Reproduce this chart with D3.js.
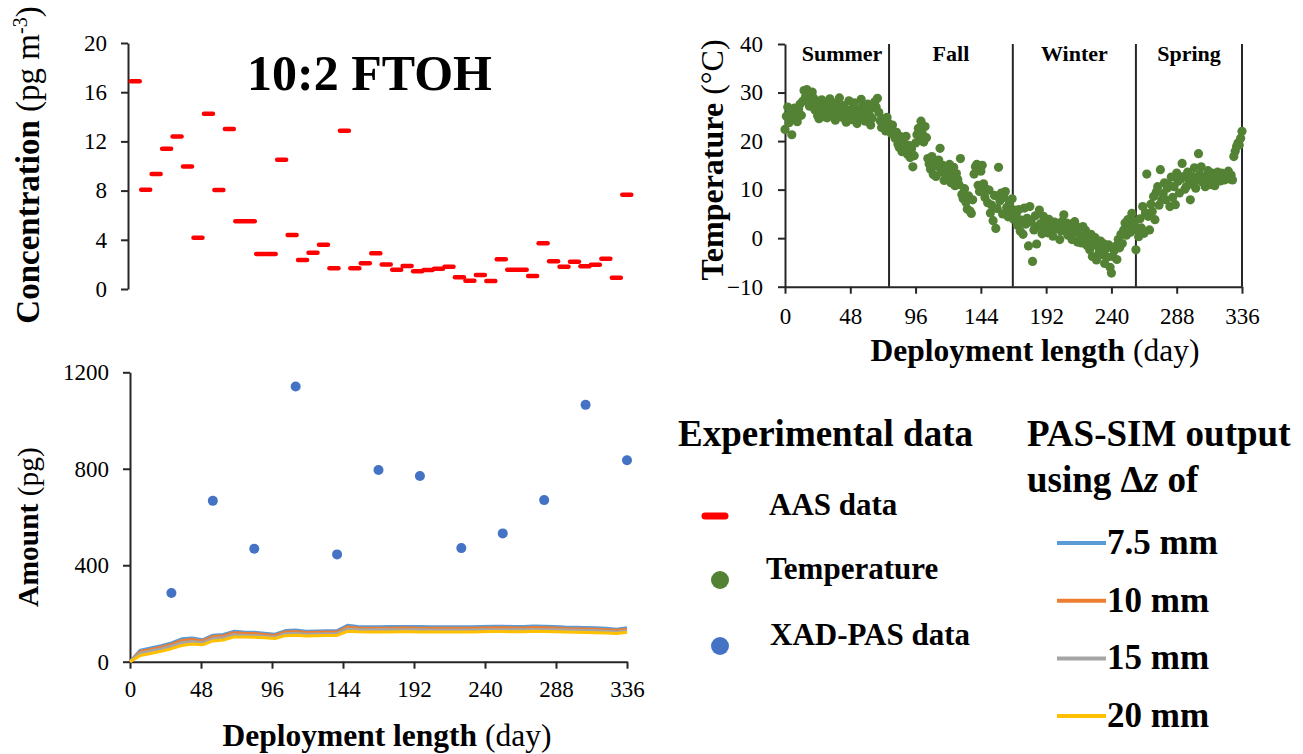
<!DOCTYPE html>
<html>
<head>
<meta charset="utf-8">
<script src="https://cdn.jsdelivr.net/npm/d3@7"></script>
<style>
  body { margin: 0; background: #fff; }
  svg { display: block; font-family: "Liberation Serif", "Times New Roman", serif; }
</style>
</head>
<body>
<svg id="chart" width="1303" height="754"></svg>
<script>
// AAS air concentrations (pg m-3), one weekly sample each
const aasConc = [16.9, 8.07, 9.35, 11.4, 12.4, 9.95, 4.17, 14.25, 8.05, 13.0, 5.5, 5.5,
  2.85, 2.85, 10.5, 4.4, 2.35, 2.95, 3.6, 1.68, 12.87, 1.68, 2.1, 2.9,
  2.0, 1.57, 1.87, 1.44, 1.54, 1.65, 1.81, 0.95, 0.68, 1.14, 0.65, 2.41,
  1.57, 1.57, 1.06, 3.71, 2.25, 1.81, 2.22, 1.84, 1.98, 2.46, 0.92, 7.67];

// XAD-PAS measured amounts (pg)
const xadDays = [28, 56, 84, 112, 140, 168, 196, 224, 252, 280, 308, 336];
const xadAmount = [285, 667, 468, 1141, 445, 795, 770, 471, 532, 670, 1065, 835];

// PAS-SIM output (pg), weekly
const simDays = [0, 7, 14, 21, 28, 35, 42, 49, 56, 63, 70, 77, 84, 91, 98, 105, 112, 119, 126, 133,
  140, 147, 154, 161, 168, 175, 182, 189, 196, 203, 210, 217, 224, 231, 238, 245, 252, 259, 266,
  273, 280, 287, 294, 301, 308, 315, 322, 329, 336];
const sim75 = [0, 48, 57, 66, 78, 95, 98, 91, 110, 113, 126, 123, 122, 118, 114, 129, 131, 126, 127, 128,
  129, 151, 146, 145, 145, 146, 146, 146, 146, 145, 145, 145, 145, 145, 146, 147, 147, 146, 146,
  148, 147, 146, 144, 143, 142, 141, 139, 135, 141];
const sim10 = [0, 42, 51, 60, 72, 88, 92, 86, 104, 107, 120, 118, 117, 113, 109, 123, 125, 121, 122, 123,
  123, 144, 140, 139, 139, 139, 140, 140, 139, 139, 139, 139, 139, 139, 140, 141, 141, 140, 140,
  142, 141, 140, 138, 137, 136, 135, 133, 130, 135];
const sim15 = [0, 35, 44, 53, 64, 79, 84, 79, 96, 99, 112, 110, 109, 106, 102, 116, 118, 114, 115, 116,
  116, 136, 133, 132, 132, 132, 132, 132, 132, 131, 131, 131, 131, 131, 132, 133, 133, 132, 132,
  134, 133, 132, 131, 130, 129, 128, 126, 123, 128];
const sim20 = [0, 26, 34, 43, 54, 67, 73, 70, 86, 90, 102, 102, 101, 99, 96, 108, 110, 107, 108, 109,
  109, 126, 124, 123, 123, 123, 124, 124, 123, 123, 123, 123, 123, 123, 124, 125, 125, 124, 124,
  126, 125, 124, 123, 122, 121, 120, 119, 117, 122];

// daily temperature (°C), day 0 .. 336
const tempC = [
  22.4, 25.1, 27.0, 23.8, 26.2, 21.3, 24.6, 26.8, 25.4, 24.0,
  26.5, 27.6, 25.3, 28.2, 30.4, 29.1, 30.6, 28.4, 27.2, 29.8,
  30.1, 28.9, 26.4, 27.8, 25.2, 24.6, 27.1, 28.5, 26.3, 25.0,
  27.4, 24.8, 26.9, 28.7, 25.6, 27.9, 26.2, 24.3, 27.5, 25.8,
  28.9, 26.7, 24.9, 27.3, 25.5, 23.9, 26.4, 28.3, 25.1, 24.4,
  26.8, 27.9, 25.7, 23.6, 24.8, 26.5, 28.6, 27.2, 25.3, 24.1,
  26.0, 27.6, 25.4, 23.3, 24.7, 26.9, 28.1, 27.0, 28.8, 25.9,
  24.2, 22.8, 24.6, 23.4, 22.1, 24.9, 23.7, 22.4, 21.6, 23.3,
  22.0, 20.6, 21.8, 19.4, 18.7, 20.9, 17.8, 19.9, 18.2, 21.0,
  17.3, 19.1, 16.6, 18.4, 14.7, 17.0, 19.6, 21.3, 22.6, 20.2,
  24.1, 21.5, 19.8, 23.0, 20.7, 16.4, 15.3, 14.2, 16.8, 13.1,
  15.9, 12.7, 14.8, 16.1, 18.5, 13.6, 15.0, 11.9, 14.3, 12.5,
  13.8, 15.2, 11.4, 12.9, 14.6, 10.8, 13.3, 12.1, 11.0, 16.4,
  9.0, 8.1, 10.2, 7.4, 6.0, 8.7, 5.6, 5.1, 7.9, 13.2,
  14.7, 15.2, 10.9, 9.6, 13.8, 15.0, 11.2, 8.4, 10.1, 7.3,
  9.9, 5.2, 6.8, 3.6, 8.8, 2.0, 6.1, 14.6, 7.7, 9.3,
  5.0, 8.4, 9.6, 6.3, 4.4, 7.2, 5.5, 8.1, 3.9, 5.8,
  4.8, 2.6, 5.9, 1.4, 3.7, 0.8, 6.2, 2.9, 4.1, -1.6,
  6.5, 3.3, -4.8, 1.7, 4.6, -1.2, 2.4, 5.8, 3.0, 0.9,
  4.5, 2.2, 3.4, 1.1, 3.9, 1.7, 2.8, 0.4, 3.3, 1.9,
  3.1, 2.6, -0.3, 1.5, 3.5, 4.8, 2.0, 3.1, 0.6, 1.7,
  2.9, -0.3, 1.2, 3.4, 1.7, -0.8, 2.2, 0.5, -1.0, 2.4,
  0.3, 1.6, -1.5, -0.4, -2.4, 0.8, -3.8, -1.2, 0.1, -4.5,
  -1.7, -2.9, -0.6, -3.4, -1.1, -5.2, -2.2, -3.9, -1.4, -6.0,
  -7.2, -3.8, -2.6, -1.7, -4.4, -0.3, -2.0, 0.8, -1.1, 1.7,
  3.1, 0.6, 3.8, 2.4, 1.2, 5.1, 3.6, 2.7, -2.4, 1.7,
  0.3, 4.0, 2.1, 6.5, 1.0, 5.2, 13.2, 4.5, 1.7, 7.0,
  5.5, 8.6, 3.8, 9.5, 10.6, 6.8, 14.1, 7.9, 9.2, 11.4,
  7.9, 10.3, 11.0, 6.5, 12.6, 8.4, 10.6, 6.9, 13.4, 11.7,
  9.3, 12.2, 15.4, 12.7, 10.1, 10.6, 13.6, 12.0, 7.9, 11.2,
  12.7, 14.5, 10.3, 12.0, 17.4, 13.1, 14.7, 11.5, 12.0, 10.6,
  12.7, 13.9, 12.0, 11.0, 13.4, 12.4, 10.8, 12.9, 13.6, 12.0,
  11.8, 13.4, 12.6, 12.0, 13.1, 12.4, 13.8, 12.2, 13.0, 12.0,
  16.8, 17.9, 18.9, 19.6, 19.2, 20.6, 22.0];

const seasonNames = ["Summer", "Fall", "Winter", "Spring"];
const seasonEnds = [76.5, 167.5, 258, 336];
const dayTicks = [0, 48, 96, 144, 192, 240, 288, 336];

const svg = d3.select('#chart');
const axisColor = '#262626';

function styleAxis(g, size) {
  g.attr('font-family', null).attr('font-size', size);
  g.selectAll('path, line').attr('stroke', axisColor).attr('stroke-width', 2);
  g.selectAll('text').attr('fill', '#000');
}

// ---------- top left: concentration ----------
const xTop = d3.scaleLinear().domain([0, 336]).range([130, 632]);
const yConc = d3.scaleLinear().domain([0, 20]).range([289, 43]);

svg.append('g').attr('transform', 'translate(128,0)')
  .call(d3.axisLeft(yConc).tickValues([0, 4, 8, 12, 16, 20]).tickSize(7).tickPadding(14).tickSizeOuter(0))
  .call(g => styleAxis(g, 23));

svg.append('g').selectAll('line').data(aasConc).join('line')
  .attr('x1', (d, i) => xTop(i * 7 + 3.5) - 4.5)
  .attr('x2', (d, i) => xTop(i * 7 + 3.5) + 4.5)
  .attr('y1', d => yConc(d)).attr('y2', d => yConc(d))
  .attr('stroke', '#ff0000').attr('stroke-width', 4.5).attr('stroke-linecap', 'round');

svg.append('text').attr('x', 247).attr('y', 90).attr('font-size', 50).attr('font-weight', 'bold')
  .text('10:2 FTOH');

const concLabel = svg.append('text').attr('transform', 'translate(39,165) rotate(-90)')
  .attr('text-anchor', 'middle').attr('font-size', 33);
concLabel.append('tspan').attr('font-weight', 'bold').text('Concentration ');
concLabel.append('tspan').text('(pg m');
concLabel.append('tspan').attr('font-size', 20).attr('dy', -12).text('-3');
concLabel.append('tspan').attr('dy', 12).text(')');

// ---------- top right: temperature ----------
const xTemp = d3.scaleLinear().domain([0, 336]).range([785, 1242]);
const yTemp = d3.scaleLinear().domain([-10, 40]).range([286.7, 44]);

svg.append('g').attr('transform', 'translate(785,0)')
  .call(d3.axisLeft(yTemp).tickValues([-10, 0, 10, 20, 30, 40]).tickSize(7).tickPadding(15).tickSizeOuter(0))
  .call(g => styleAxis(g, 23));
svg.append('g').attr('transform', 'translate(0,286.7)')
  .call(d3.axisBottom(xTemp).tickValues(dayTicks).tickSize(7).tickPadding(14).tickSizeOuter(0))
  .call(g => styleAxis(g, 23));

svg.append('g').selectAll('line').data(seasonEnds).join('line')
  .attr('x1', d => xTemp(d)).attr('x2', d => xTemp(d))
  .attr('y1', yTemp(40)).attr('y2', yTemp(-10))
  .attr('stroke', axisColor).attr('stroke-width', 2);

svg.append('g').selectAll('text').data(seasonNames).join('text')
  .attr('x', (d, i) => xTemp(((i ? seasonEnds[i - 1] : 0) + seasonEnds[i]) / 2) + (i ? 0 : 5))
  .attr('y', 61).attr('text-anchor', 'middle').attr('font-size', 22).attr('font-weight', 'bold')
  .text(d => d);

svg.append('g').selectAll('circle').data(tempC).join('circle')
  .attr('cx', (d, i) => xTemp(i)).attr('cy', d => yTemp(d)).attr('r', 4.6)
  .attr('fill', '#548235');

const tempLabel = svg.append('text').attr('transform', 'translate(723,160) rotate(-90)')
  .attr('text-anchor', 'middle').attr('font-size', 32);
tempLabel.append('tspan').attr('font-weight', 'bold').text('Temperature ');
tempLabel.append('tspan').text('(°C)');

const dayLabelTop = svg.append('text').attr('x', 1035).attr('y', 361)
  .attr('text-anchor', 'middle').attr('font-size', 31.5);
dayLabelTop.append('tspan').attr('font-weight', 'bold').text('Deployment length ');
dayLabelTop.append('tspan').text('(day)');

// ---------- bottom left: amount ----------
const xBot = d3.scaleLinear().domain([0, 336]).range([130, 627]);
const yAmt = d3.scaleLinear().domain([0, 1200]).range([661.7, 372.3]);

svg.append('g').attr('transform', 'translate(130,0)')
  .call(d3.axisLeft(yAmt).tickValues([0, 400, 800, 1200]).tickFormat(d3.format('d'))
    .tickSize(7).tickPadding(14).tickSizeOuter(0))
  .call(g => styleAxis(g, 23));
svg.append('g').attr('transform', 'translate(0,661.7)')
  .call(d3.axisBottom(xBot).tickValues(dayTicks).tickSize(7).tickPadding(12).tickSizeOuter(0))
  .call(g => styleAxis(g, 23));

const simSeries = [
  { name: '7.5 mm', values: sim75, color: '#5b9bd5' },
  { name: '10 mm', values: sim10, color: '#ed7d31' },
  { name: '15 mm', values: sim15, color: '#a5a5a5' },
  { name: '20 mm', values: sim20, color: '#ffc000' }
];
const simLine = d3.line().x((d, i) => xBot(simDays[i])).y(d => yAmt(d));
svg.append('g').selectAll('path').data(simSeries).join('path')
  .attr('d', s => simLine(s.values)).attr('fill', 'none')
  .attr('stroke', s => s.color).attr('stroke-width', 3).attr('stroke-linejoin', 'round');

svg.append('g').selectAll('circle').data(xadAmount).join('circle')
  .attr('cx', (d, i) => xBot(xadDays[i])).attr('cy', d => yAmt(d)).attr('r', 5)
  .attr('fill', '#4472c4');

const amtLabel = svg.append('text').attr('transform', 'translate(38,527) rotate(-90)')
  .attr('text-anchor', 'middle').attr('font-size', 29.5);
amtLabel.append('tspan').attr('font-weight', 'bold').text('Amount ');
amtLabel.append('tspan').text('(pg)');

const dayLabelBot = svg.append('text').attr('x', 387).attr('y', 746)
  .attr('text-anchor', 'middle').attr('font-size', 31.5);
dayLabelBot.append('tspan').attr('font-weight', 'bold').text('Deployment length ');
dayLabelBot.append('tspan').text('(day)');

// ---------- legend ----------
const leg = svg.append('g').attr('font-weight', 'bold');
leg.append('text').attr('x', 678).attr('y', 446).attr('font-size', 37).text('Experimental data');
leg.append('text').attr('x', 1027).attr('y', 446).attr('font-size', 37).text('PAS-SIM output');
const using = leg.append('text').attr('x', 1027).attr('y', 492).attr('font-size', 37);
using.append('tspan').text('using Δ');
using.append('tspan').attr('font-style', 'italic').text('z');
using.append('tspan').text(' of');

const expItems = [
  { name: 'AAS data', y: 516, tx: 769 },
  { name: 'Temperature', y: 580, tx: 766, color: '#548235' },
  { name: 'XAD-PAS data', y: 646, tx: 770, color: '#4472c4' }
];
leg.append('line').attr('x1', 705).attr('x2', 725).attr('y1', 516).attr('y2', 516)
  .attr('stroke', '#ff0000').attr('stroke-width', 7).attr('stroke-linecap', 'round');
leg.selectAll('circle.exp').data(expItems.slice(1)).join('circle').attr('class', 'exp')
  .attr('cx', 720).attr('cy', d => d.y).attr('r', 9).attr('fill', d => d.color);
leg.selectAll('text.exp').data(expItems).join('text').attr('class', 'exp')
  .attr('x', d => d.tx).attr('y', d => d.y - 1).attr('font-size', 31).text(d => d.name);

simSeries.forEach((s, i) => {
  const y = 543 + i * 57.7;
  leg.append('line').attr('x1', 1057).attr('x2', 1106).attr('y1', y).attr('y2', y)
    .attr('stroke', s.color).attr('stroke-width', 4);
  leg.append('text').attr('x', 1107).attr('y', y + 11).attr('font-size', 35).text(s.name);
});
</script>
</body>
</html>
